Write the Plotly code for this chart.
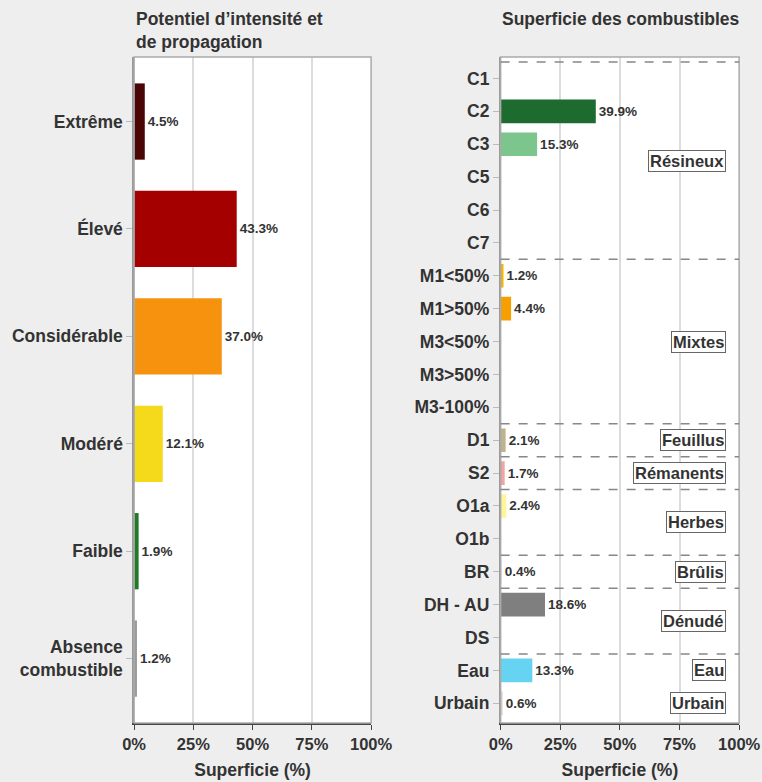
import plotly.graph_objects as go

# Left chart data
pot_cats = ["Extrême", "Élevé", "Considérable", "Modéré", "Faible", "Absence<br>combustible"]
pot_vals = [4.5, 43.3, 37.0, 12.1, 1.9, 1.2]
pot_colors = ["#4a0505", "#a50000", "#f7920f", "#f5da1c", "#1f7a24", "#9a9a9a"]

# Right chart data
fuel_cats = ["C1", "C2", "C3", "C5", "C6", "C7",
             "M1<50%", "M1>50%", "M3<50%", "M3>50%", "M3-100%",
             "D1", "S2", "O1a", "O1b", "BR", "DH - AU", "DS", "Eau", "Urbain"]
fuel_vals = [None, 39.9, 15.3, None, None, None,
             1.2, 4.4, None, None, None,
             2.1, 1.7, 2.4, None, 0.4, 18.6, None, 13.3, 0.6]
fuel_colors = ["#1e6b30", "#1e6b30", "#7cc68e", "#1e6b30", "#1e6b30", "#1e6b30",
               "#f5b400", "#f5a000", "#f5a000", "#f5a000", "#f5a000",
               "#bdb48e", "#f4a3a3", "#fff59a", "#fff59a", "#e0e0e0", "#7f7f7f", "#7f7f7f",
               "#66d3f3", "#dadada"]

group_names = ["Résineux", "Mixtes", "Feuillus", "Rémanents", "Herbes", "Brûlis", "Dénudé", "Eau", "Urbain"]
group_sizes = [6, 5, 1, 1, 2, 1, 2, 1, 1]
group_dashed = [True, True, True, True, True, True, True, True, False]

tick_vals = [0, 25, 50, 75, 100]
tick_text = ["0%", "25%", "50%", "75%", "100%"]

TXT = "#333333"
FONT = "Liberation Sans"

fig = go.Figure()

fig.add_trace(go.Bar(
    y=pot_cats, x=pot_vals, orientation="h",
    marker=dict(color=pot_colors, line=dict(width=0)),
    width=0.71,
    text=[f"{v:.1f}%" for v in pot_vals], textposition="outside",
    textfont=dict(size=13.5, color=TXT, family=FONT, weight="bold"),
    cliponaxis=False, xaxis="x", yaxis="y", showlegend=False, hoverinfo="skip",
))

fig.add_trace(go.Bar(
    y=fuel_cats, x=fuel_vals, orientation="h",
    marker=dict(color=fuel_colors, line=dict(width=0)),
    width=0.72,
    text=[f"{v:.1f}%" if v is not None else "" for v in fuel_vals], textposition="outside",
    textfont=dict(size=13.5, color=TXT, family=FONT, weight="bold"),
    cliponaxis=False, xaxis="x2", yaxis="y2", showlegend=False, hoverinfo="skip",
))

axis_common = dict(
    range=[0, 100], tickvals=tick_vals, ticktext=tick_text,
    showgrid=True, gridcolor="#dcdcdc", gridwidth=2,
    showline=True, linecolor="#444444", linewidth=2, mirror=False,
    ticks="outside", ticklen=5, tickcolor="#444444",
    tickfont=dict(size=16.5, color=TXT, family=FONT, weight="bold"),
    title=dict(text="Superficie (%)", font=dict(size=17.5, color=TXT, family=FONT, weight="bold"), standoff=12),
    zeroline=False, fixedrange=True, automargin=False,
)

y_common = dict(
    domain=[0.0754, 0.927], type="category",
    showline=True, linecolor="#999999", linewidth=1.5,
    ticks="outside", ticklen=6, tickcolor="#bbbbbb",
    tickfont=dict(size=17.5, color=TXT, family=FONT, weight="bold"),
    fixedrange=True, automargin=False,
)

fig.update_layout(
    width=762, height=782,
    margin=dict(l=0, r=0, t=0, b=0),
    paper_bgcolor="#eeeeee", plot_bgcolor="#ffffff",
    bargap=0.3,
    xaxis=dict(domain=[0.176, 0.487], anchor="y", **axis_common),
    xaxis2=dict(domain=[0.657, 0.970], anchor="y2", **axis_common),
    yaxis=dict(anchor="x", range=[5.6, -0.6], **y_common),
    yaxis2=dict(anchor="x2", range=[19.6, -0.65], **y_common),
)

# Frames (top/right borders)
for xr, yr in [("x domain", "y domain"), ("x2 domain", "y2 domain")]:
    fig.add_shape(type="rect", xref=xr, yref=yr, x0=0, x1=1, y0=0, y1=1,
                  line=dict(color="#aaaaaa", width=1.5), layer="above")

# Group separators and labels
start = 0
for name, size, dashed in zip(group_names, group_sizes, group_dashed):
    if dashed:
        fig.add_shape(type="line", xref="x2 domain", yref="y2",
                      x0=0, x1=1, y0=start - 0.5, y1=start - 0.5,
                      line=dict(color="#888888", width=1.5, dash="dash"), layer="above")
    mid = start + (size - 1) / 2
    fig.add_annotation(
        xref="x2 domain", yref="y2", x=0.945, y=mid, xanchor="right", yanchor="middle",
        text=name, showarrow=False,
        font=dict(size=16.5, color=TXT, family=FONT, weight="bold"),
        bgcolor="#ffffff", bordercolor="#666666", borderwidth=1, borderpad=1,
    )
    start += size

# Titles
fig.add_annotation(xref="paper", yref="paper", x=134 / 762, y=1 - 7 / 782,
                   xanchor="left", yanchor="top", align="left", showarrow=False,
                   text="Potentiel d’intensité et<br>de propagation",
                   font=dict(size=17.5, color=TXT, family=FONT, weight="bold"))
fig.add_annotation(xref="paper", yref="paper", x=500 / 762, y=1 - 7 / 782,
                   xanchor="left", yanchor="top", align="left", showarrow=False,
                   text="Superficie des combustibles",
                   font=dict(size=17.5, color=TXT, family=FONT, weight="bold"))

fig.write_html("out.html", config={"displayModeBar": False},
               post_script="document.body.style.margin='0';")
